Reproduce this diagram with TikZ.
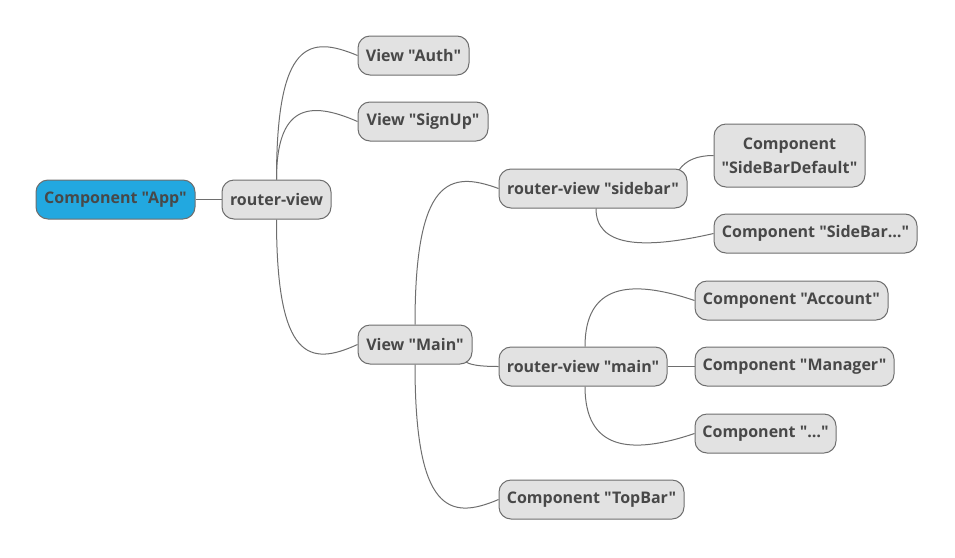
\documentclass[tikz,border=0pt]{standalone}
\usepackage{fontspec}
\setmainfont{Open Sans}[Ligatures=TeXOff]
\usetikzlibrary{calc}
\definecolor{boxfill}{HTML}{E2E2E2}
\definecolor{boxline}{HTML}{6E6E6E}
\definecolor{boxtext}{HTML}{484848}
\definecolor{rootfill}{HTML}{22A8E0}
\tikzset{
  mmnode/.style={draw=boxline, fill=boxfill, line width=0.75pt, rounded corners=9pt,
    minimum height=29.25pt, inner xsep=5pt, inner ysep=3pt, text=boxtext,
    font=\fontsize{12pt}{18pt}\selectfont\bfseries, align=center},
  rootnode/.style={mmnode, fill=rootfill},
  link/.style={draw=boxline, line width=0.75pt}
}
\begin{document}
\begin{tikzpicture}[x=0.75pt,y=-0.75pt]
\useasboundingbox (0,0) rectangle (955,557);
\node[rootnode, minimum width=119.25pt] (app) at (115.5,199.5) {Component "App"};
\node[mmnode, minimum width=81.75pt] (rv) at (276.5,199.5) {router-view};
\node[mmnode, minimum width=83.25pt] (auth) at (413.5,55.5) {View "Auth"};
\node[mmnode, minimum width=97.5pt] (signup) at (423,121.5) {View "SignUp"};
\node[mmnode, minimum width=85.5pt] (main) at (415,344.5) {View "Main"};
\node[mmnode, minimum width=141pt] (sidebar) at (593,188.5) {router-view "sidebar"};
\node[mmnode, minimum width=113.25pt, minimum height=47.25pt] (sbd) at (789.5,155.5) {Component\\"SideBarDefault"};
\node[mmnode, minimum width=152.25pt] (sbx) at (815.5,233.5) {Component "SideBar…"};
\node[mmnode, minimum width=144.75pt] (account) at (791.5,300.5) {Component "Account"};
\node[mmnode, minimum width=126pt] (mainrv) at (583,366.5) {router-view "main"};
\node[mmnode, minimum width=149.25pt] (manager) at (794.5,366.5) {Component "Manager"};
\node[mmnode, minimum width=105.75pt] (dots) at (765.5,433.5) {Component "…"};
\node[mmnode, minimum width=138.75pt] (topbar) at (591.5,499.5) {Component "TopBar"};

\draw[link] (app.east) -- (rv.west);
\draw[link] (rv.north) .. controls +(0,-140) and +(-48,-20) .. (auth.west);
\draw[link] (rv.north) .. controls +(0,-75) and +(-48,-21) .. (signup.west);
\draw[link] (rv.south) .. controls +(0,141) and +(-48,22) .. (main.west);
\draw[link] (main.north) .. controls +(0,-147) and +(-49,-18) .. (sidebar.west);
\draw[link] (main.south) .. controls +(0,148) and +(-49,21) .. (topbar.west);
\draw[link] ($(main.center)+(51,17.5)$) .. controls +(6,4) and +(-11,0) .. (mainrv.west);
\draw[link] ($(sidebar.center)+(86,-18.5)$) .. controls +(7,-10) and +(-16,0) .. (sbd.west);
\draw[link] ($(sidebar.south)+(3,0)$) .. controls +(0,37) and +(-74,17) .. (sbx.west);
\draw[link] ($(mainrv.north)+(2,0)$) .. controls +(0,-62) and +(-65,-22) .. (account.west);
\draw[link] (mainrv.east) -- (manager.west);
\draw[link] ($(mainrv.south)+(2,0)$) .. controls +(0,63) and +(-65,22) .. (dots.west);
\end{tikzpicture}
\end{document}
